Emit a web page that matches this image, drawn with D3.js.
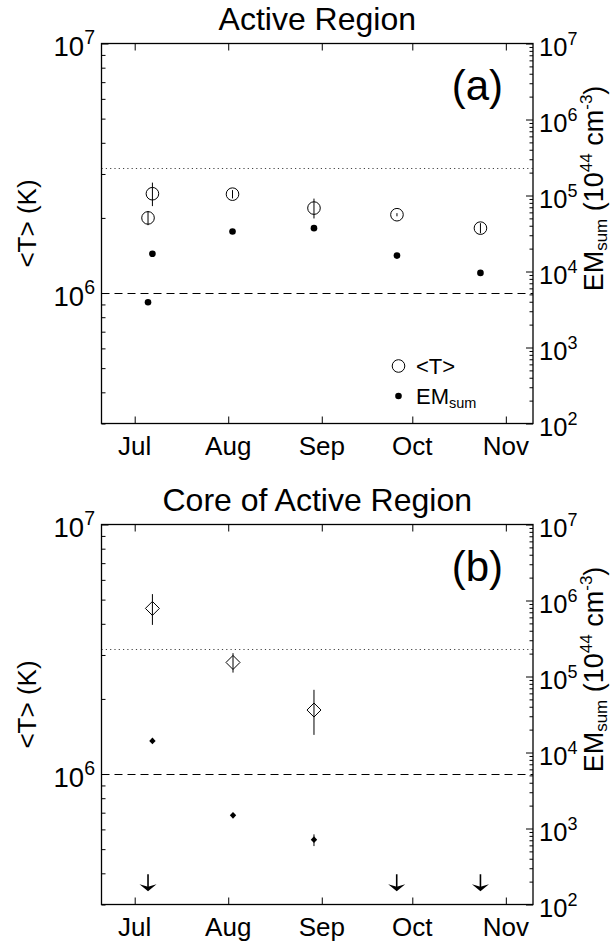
<!DOCTYPE html>
<html><head><meta charset="utf-8">
<script src="https://cdn.jsdelivr.net/npm/d3@7"></script>
<style>
body{margin:0;background:#fff}
svg{display:block}
text{font-family:"Liberation Sans",Arial,Helvetica,sans-serif;fill:#000}
</style>
</head><body>
<svg id="chart" width="611" height="945"></svg>
<script>
// ---------- data ----------
const months = ["Jul","Aug","Sep","Oct","Nov"];
const monthStarts = ["2007-07-01 00:00","2007-08-01 00:00","2007-09-01 00:00","2007-10-01 00:00","2007-11-01 00:00"];
const dateRange = ["2007-06-20 00:00","2007-11-10 00:00"];
const tRange = [3e5, 1e7];
const emRange = [1e2, 1e7];
const tMajor = [1e6, 1e7];
const emMajor = [1e2, 1e3, 1e4, 1e5, 1e6, 1e7];
const tDashed = 1e6;
const tDotted = 3.16e6;

// (a) Active Region
const arDates = ["2007-07-05 10:00","2007-07-06 21:00","2007-08-02 10:00","2007-08-29 10:00","2007-09-25 22:00","2007-10-23 14:00"];
const arT     = [2.00e6, 2.50e6, 2.49e6, 2.19e6, 2.06e6, 1.82e6];
const arTErr  = [0.13e6, 0.27e6, 0.095e6, 0.20e6, 0.03e6, 0.085e6];
const arEM    = [3940, 17100, 33600, 37200, 16200, 9580];

// (b) Core of Active Region
const coreDates = ["2007-07-06 21:00","2007-08-02 14:00","2007-08-29 10:00"];
const coreT     = [4.61e6, 2.80e6, 1.805e6];
const coreTErr  = [0.65e6, 0.25e6, 0.37e6];
const coreEM    = [14200, 1490, 712];
const coreEMErr = [0, 0, 125];
const limDates  = ["2007-07-05 10:00","2007-09-25 20:00","2007-10-23 14:00"];
const limEM     = [250, 250, 250];

// ---------- layout ----------
const parse = d3.utcParse("%Y-%m-%d %H:%M");
const svg = d3.select("#chart");
const L = 101.5, R = 533;
const panels = [
  {top: 43.5, bottom: 423.5, title: "Active Region", tag: "(a)", kind: "ar"},
  {top: 524.5, bottom: 904.5, title: "Core of Active Region", tag: "(b)", kind: "core"}
];

const x = d3.scaleUtc().domain(dateRange.map(parse)).range([L, R]);
const crisp = v => Math.round(v) + 0.5;

function minorsBetween(lo, hi) {
  const out = [];
  for (let e = Math.floor(Math.log10(lo)); e <= Math.ceil(Math.log10(hi)); e++) {
    for (let m = 1; m <= 9; m++) {
      const v = m * Math.pow(10, e);
      if (v >= lo * 0.999 && v <= hi * 1.001) out.push(v);
    }
  }
  return out;
}

function powLabel(g, xPos, yPos, exp, anchor, fs, efs) {
  const t = g.append("text").attr("x", xPos).attr("y", yPos).attr("text-anchor", anchor);
  t.append("tspan").attr("font-size", fs).text("10");
  t.append("tspan").attr("font-size", efs).attr("dy", -Math.round(fs * 0.43)).text(exp);
}

panels.forEach(p => {
  const g = svg.append("g");
  const yT = d3.scaleLog().domain(tRange).range([p.bottom, p.top]);
  const yE = d3.scaleLog().domain(emRange).range([p.bottom, p.top]);

  // reference lines
  g.append("line").attr("x1", L).attr("x2", R)
    .attr("y1", crisp(yT(tDashed))).attr("y2", crisp(yT(tDashed)))
    .attr("stroke", "#000").attr("stroke-width", 1).attr("stroke-dasharray", "8,5");
  g.append("line").attr("x1", L).attr("x2", R)
    .attr("y1", crisp(yT(tDotted))).attr("y2", crisp(yT(tDotted)))
    .attr("stroke", "#444").attr("stroke-width", 1).attr("stroke-dasharray", "1.2,3.1");

  // axes (ticks inside)
  const tickStyle = sel => {
    sel.select(".domain").remove();
    sel.selectAll(".tick line").attr("stroke", "#000").attr("stroke-width", 1);
    sel.selectAll(".tick text").remove();
  };
  const tMinor = minorsBetween(tRange[0], tRange[1]).filter(v => !tMajor.includes(v));
  g.append("g").attr("transform", `translate(${L},0)`)
    .call(d3.axisLeft(yT).tickValues(tMinor).tickSize(-4).tickFormat("")).call(tickStyle);
  g.append("g").attr("transform", `translate(${L},0)`)
    .call(d3.axisLeft(yT).tickValues(tMajor).tickSize(-7).tickFormat("")).call(tickStyle);
  const eMinor = minorsBetween(emRange[0], emRange[1]).filter(v => !emMajor.includes(v));
  g.append("g").attr("transform", `translate(${R},0)`)
    .call(d3.axisRight(yE).tickValues(eMinor).tickSize(-3.5).tickFormat("")).call(tickStyle);
  g.append("g").attr("transform", `translate(${R},0)`)
    .call(d3.axisRight(yE).tickValues(emMajor).tickSize(-7).tickFormat("")).call(tickStyle);
  g.append("g").attr("transform", `translate(0,${p.bottom})`)
    .call(d3.axisBottom(x).tickValues(monthStarts.map(parse)).tickSize(-7).tickFormat("")).call(tickStyle);
  g.append("g").attr("transform", `translate(0,${p.top})`)
    .call(d3.axisTop(x).tickValues(monthStarts.map(parse)).tickSize(-7).tickFormat("")).call(tickStyle);

  // frame
  g.append("rect").attr("x", L).attr("y", p.top).attr("width", R - L).attr("height", p.bottom - p.top)
    .attr("fill", "none").attr("stroke", "#000").attr("stroke-width", 1.3);

  // tick labels
  months.forEach((m, i) => {
    g.append("text").attr("x", x(parse(monthStarts[i]))).attr("y", p.bottom + 31.5)
      .attr("text-anchor", "middle").attr("font-size", 26).text(m);
  });
  tMajor.forEach(v => powLabel(g, 95, yT(v) + 12.5, String(Math.round(Math.log10(v))), "end", 27.5, 19.5));
  emMajor.forEach(v => powLabel(g, 539, yE(v) + 12, String(Math.round(Math.log10(v))), "start", 25.5, 18));

  // titles
  g.append("text").attr("x", (L + R) / 2).attr("y", p.top - 14).attr("text-anchor", "middle")
    .attr("font-size", 32).text(p.title);
  g.append("text").attr("x", 503).attr("y", p.top + 56).attr("text-anchor", "end")
    .attr("font-size", 42).text(p.tag);

  // y axis titles
  g.append("text").attr("transform", `translate(36,${(p.top + p.bottom) / 2 - 10}) rotate(-90)`)
    .attr("text-anchor", "middle").attr("font-size", 26).text("<T> (K)");
  const rt = g.append("text").attr("transform", `translate(603,${p.top + 145}) rotate(-90)`)
    .attr("text-anchor", "middle").attr("font-size", 27);
  rt.append("tspan").text("EM");
  rt.append("tspan").attr("font-size", 17).attr("dy", 4).text("sum");
  rt.append("tspan").attr("dy", -4).text(" (10");
  rt.append("tspan").attr("font-size", 17).attr("dy", -11).text("44");
  rt.append("tspan").attr("dy", 11).text(" cm");
  rt.append("tspan").attr("font-size", 17).attr("dy", -11).text("-3");
  rt.append("tspan").attr("dy", 11).text(")");

  if (p.kind === "ar") {
    const pts = arDates.map((d, i) => ({d: parse(d), t: arT[i], te: arTErr[i], em: arEM[i]}));
    g.selectAll(".eb").data(pts).join("line")
      .attr("x1", d => x(d.d)).attr("x2", d => x(d.d))
      .attr("y1", d => yT(d.t - d.te)).attr("y2", d => yT(d.t + d.te))
      .attr("stroke", "#000").attr("stroke-width", 1);
    g.selectAll(".tc").data(pts).join("circle")
      .attr("cx", d => x(d.d)).attr("cy", d => yT(d.t)).attr("r", 6.3)
      .attr("fill", "none").attr("stroke", "#000").attr("stroke-width", 1);
    g.selectAll(".ec").data(pts).join("circle")
      .attr("cx", d => x(d.d)).attr("cy", d => yE(d.em)).attr("r", 3.3).attr("fill", "#000");
    // legend
    g.append("circle").attr("cx", 398.5).attr("cy", 366).attr("r", 6.3)
      .attr("fill", "none").attr("stroke", "#000");
    g.append("text").attr("x", 416).attr("y", 374).attr("font-size", 22).text("<T>");
    g.append("circle").attr("cx", 398.5).attr("cy", 396).attr("r", 3.3).attr("fill", "#000");
    const lt = g.append("text").attr("x", 416).attr("y", 404).attr("font-size", 22);
    lt.append("tspan").text("EM");
    lt.append("tspan").attr("font-size", 14.5).attr("dy", 4).text("sum");
  } else {
    const pts = coreDates.map((d, i) => ({d: parse(d), t: coreT[i], te: coreTErr[i], em: coreEM[i], ee: coreEMErr[i]}));
    g.selectAll(".td").data(pts).join("path")
      .attr("transform", d => `translate(${x(d.d)},${yT(d.t)})`)
      .attr("d", "M0,-7L7,0L0,7L-7,0Z").attr("fill", "#fff").attr("stroke", "#000").attr("stroke-width", 1);
    g.selectAll(".tdl").data(pts).join("line")
      .attr("x1", d => x(d.d)).attr("x2", d => x(d.d))
      .attr("y1", d => yT(d.t - d.te)).attr("y2", d => yT(d.t + d.te))
      .attr("stroke", "#000").attr("stroke-width", 1);
    g.selectAll(".eeb").data(pts.filter(d => d.ee > 0)).join("line")
      .attr("x1", d => x(d.d)).attr("x2", d => x(d.d))
      .attr("y1", d => yE(d.em - d.ee)).attr("y2", d => yE(d.em + d.ee))
      .attr("stroke", "#000").attr("stroke-width", 1);
    g.selectAll(".ed").data(pts).join("path")
      .attr("transform", d => `translate(${x(d.d)},${yE(d.em)})`)
      .attr("d", "M0,-3.4L3.2,0L0,3.4L-3.2,0Z").attr("fill", "#000");
    const lims = limDates.map((d, i) => ({d: parse(d), em: limEM[i]}));
    g.selectAll(".al").data(lims).join("line")
      .attr("x1", d => x(d.d)).attr("x2", d => x(d.d))
      .attr("y1", d => yE(d.em)).attr("y2", d => yE(d.em) + 14)
      .attr("stroke", "#000").attr("stroke-width", 1.6);
    g.selectAll(".ah").data(lims).join("path")
      .attr("transform", d => `translate(${x(d.d)},${yE(d.em) + 10})`)
      .attr("d", "M-8.5,0L0,7L8.5,0L0,2.5Z").attr("fill", "#000");
  }
});
</script>
</body></html>
